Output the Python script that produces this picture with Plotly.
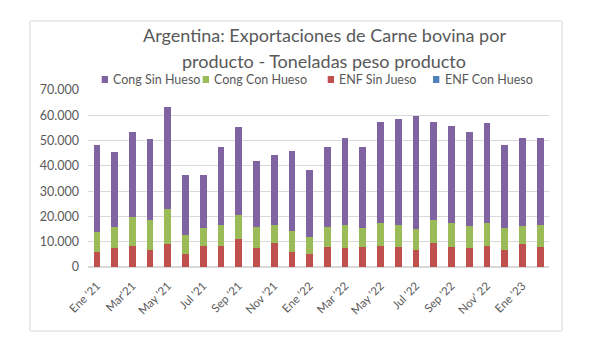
import plotly.graph_objects as go

months = ["Ene '21", "Feb '21", "Mar '21", "Abr '21", "May '21", "Jun '21", "Jul '21", "Ago '21",
          "Sep '21", "Oct '21", "Nov '21", "Dic '21", "Ene '22", "Feb '22", "Mar '22", "Abr '22",
          "May '22", "Jun '22", "Jul '22", "Ago '22", "Sep '22", "Oct '22", "Nov '22", "Dic '22",
          "Ene '23", "Feb '23"]
tick_vals = months[::2]
tick_text = ["Ene '21", "Mar'21", "May '21", "Jul '21", "Sep '21", "Nov '21", "Ene '22",
             "Mar '22", "May '22", "Jul '22", "Sep '22", "Nov' 22", "Ene '23"]

enf_sin_jueso = [5800, 7500, 8300, 6700, 9100, 5100, 8300, 8300, 10900, 7500, 9500, 5800, 5100,
                 7900, 7500, 7900, 8300, 7900, 6700, 9500, 7900, 7500, 8300, 6700, 9100, 7900]
cong_con_hueso = [7900, 8500, 11300, 11700, 13700, 7700, 7000, 8500, 9800, 8500, 7300, 8500, 6600,
                  8100, 9300, 7500, 9100, 8900, 8200, 8900, 9500, 8800, 9100, 8700, 7200, 8900]
cong_sin_hueso = [34700, 29400, 33600, 32100, 40500, 23500, 21000, 30700, 34600, 26100, 27400,
                  31500, 26700, 31400, 34300, 32000, 40000, 41600, 44700, 39000, 38400, 36900,
                  39400, 33000, 34800, 34300]
enf_con_hueso = [0] * 26

legend_names = ["Cong Sin Hueso", "Cong Con Hueso", "ENF Sin Jueso", "ENF Con Hueso"]
legend_colors = ["#8064A2", "#9BBB59", "#C0504D", "#4F81BD"]

FONT = "Lato"
GREY = "#595959"

fig = go.Figure()
fig.add_trace(go.Bar(x=months, y=enf_sin_jueso, name=legend_names[2], marker_color=legend_colors[2]))
fig.add_trace(go.Bar(x=months, y=cong_con_hueso, name=legend_names[1], marker_color=legend_colors[1]))
fig.add_trace(go.Bar(x=months, y=cong_sin_hueso, name=legend_names[0], marker_color=legend_colors[0]))
fig.add_trace(go.Bar(x=months, y=enf_con_hueso, name=legend_names[3], marker_color=legend_colors[3]))
fig.update_traces(marker_line_width=0)

# manual legend (square + label), positions in paper coordinates
sq_x0 = [0.0297, 0.2488, 0.5200, 0.7484]
sq_w = 0.0137
txt_x = [0.0492, 0.2683, 0.5401, 0.7701]
annotations = [
    dict(text="Argentina: Exportaciones de Carne bovina por", xref="paper", yref="paper",
         x=0.512, y=1.3107, xanchor="center", yanchor="middle", showarrow=False,
         font=dict(size=18, color=GREY, family=FONT)),
    dict(text="producto - Toneladas peso producto", xref="paper", yref="paper",
         x=0.512, y=1.1638, xanchor="center", yanchor="middle", showarrow=False,
         font=dict(size=18, color=GREY, family=FONT)),
]
shapes = [dict(type="rect", xref="paper", yref="paper", x0=-0.1258, x1=1.0282,
               y0=-0.3616, y1=1.3898, line=dict(color="#D9D9D9", width=1),
               fillcolor="rgba(0,0,0,0)", layer="below")]
for name, color, x0, tx in zip(legend_names, legend_colors, sq_x0, txt_x):
    shapes.append(dict(type="rect", xref="paper", yref="paper", x0=x0, x1=x0 + sq_w,
                       y0=1.0395, y1=1.0791, line=dict(width=0), fillcolor=color))
    annotations.append(dict(text=name, xref="paper", yref="paper", x=tx, y=1.0565,
                            xanchor="left", yanchor="middle", showarrow=False,
                            font=dict(size=12.5, color=GREY, family=FONT)))

fig.update_layout(
    barmode="stack",
    bargap=0.62,
    width=591, height=346,
    margin=dict(l=88, r=42, t=90, b=79),
    paper_bgcolor="white", plot_bgcolor="white",
    separators=",.",
    font=dict(family=FONT, color=GREY, size=11),
    showlegend=False,
    xaxis=dict(tickmode="array", tickvals=tick_vals, ticktext=tick_text, tickangle=-45,
               showgrid=False, ticks="", showline=False, ticklabelstandoff=9,
               tickfont=dict(size=11.5, color=GREY)),
    yaxis=dict(range=[0, 70000], dtick=10000, tickformat=",d", showgrid=True,
               gridcolor="#D9D9D9", gridwidth=1, zeroline=True, zerolinecolor="#D9D9D9",
               ticks="", showline=False, ticklabelstandoff=8,
               tickfont=dict(size=12.5, color=GREY)),
    annotations=annotations,
    shapes=shapes,
)

fig.write_html("out.html")
